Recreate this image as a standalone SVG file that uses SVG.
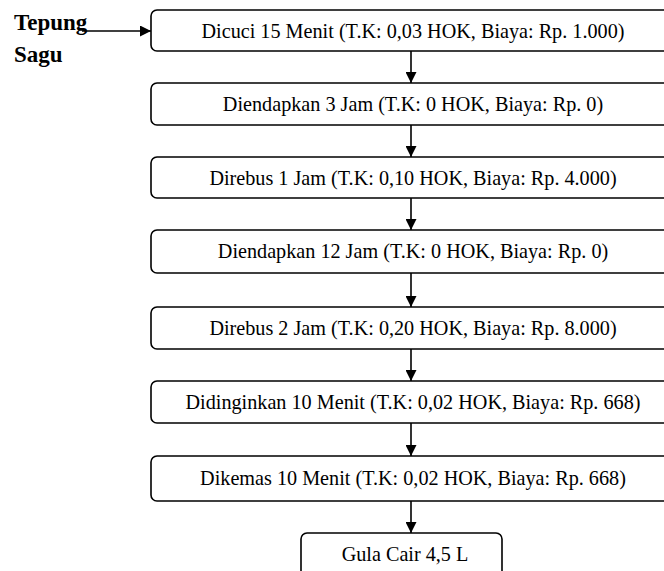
<svg xmlns="http://www.w3.org/2000/svg" width="664" height="571" viewBox="0 0 664 571">
<defs>
<marker id="ah" markerWidth="11" markerHeight="11" refX="11" refY="5.5" orient="auto" markerUnits="userSpaceOnUse">
<path d="M0,0 L11,5.5 L0,11 Z" fill="#000"/>
</marker>
</defs>
<style>
.box{fill:#fff;stroke:#000;stroke-width:1.6}
.t{font-family:"Liberation Serif","Times New Roman",serif;font-size:20.2px;fill:#000;text-anchor:middle}
.b{font-family:"Liberation Serif","Times New Roman",serif;font-size:23px;font-weight:bold;fill:#000}
.c{stroke:#000;stroke-width:1.6;fill:none;marker-end:url(#ah)}
</style>
<rect width="664" height="571" fill="#fff"/>
<g id="input">
<text class="b" x="14" y="30">Tepung</text>
<text class="b" x="14" y="62">Sagu</text>
</g>
<g id="n1"><rect class="box" x="151" y="10" width="524" height="41" rx="6"/><text class="t" x="413" y="38">Dicuci 15 Menit (T.K: 0,03 HOK, Biaya: Rp. 1.000)</text></g>
<g id="n2"><rect class="box" x="151" y="83" width="524" height="42" rx="6"/><text class="t" x="413" y="111">Diendapkan 3 Jam (T.K: 0 HOK, Biaya: Rp. 0)</text></g>
<g id="n3"><rect class="box" x="151" y="157" width="524" height="41" rx="6"/><text class="t" x="413" y="185">Direbus 1 Jam (T.K: 0,10 HOK, Biaya: Rp. 4.000)</text></g>
<g id="n4"><rect class="box" x="151" y="230" width="524" height="43" rx="6"/><text class="t" x="413" y="258">Diendapkan 12 Jam (T.K: 0 HOK, Biaya: Rp. 0)</text></g>
<g id="n5"><rect class="box" x="151" y="307" width="524" height="42" rx="6"/><text class="t" x="413" y="335">Direbus 2 Jam (T.K: 0,20 HOK, Biaya: Rp. 8.000)</text></g>
<g id="n6"><rect class="box" x="151" y="381" width="524" height="42" rx="6"/><text class="t" x="413" y="409">Didinginkan 10 Menit (T.K: 0,02 HOK, Biaya: Rp. 668)</text></g>
<g id="n7"><rect class="box" x="151" y="456" width="524" height="45" rx="6"/><text class="t" x="413" y="485">Dikemas 10 Menit (T.K: 0,02 HOK, Biaya: Rp. 668)</text></g>
<g id="n8"><rect class="box" x="301" y="533" width="201" height="50" rx="6"/><text class="t" x="405" y="561">Gula Cair 4,5 L</text></g>
<g id="connectors">
<line class="c" x1="82" y1="31" x2="151" y2="31"/>
<line class="c" x1="411" y1="51" x2="411" y2="83"/>
<line class="c" x1="411" y1="125" x2="411" y2="157"/>
<line class="c" x1="411" y1="198" x2="411" y2="230"/>
<line class="c" x1="411" y1="273" x2="411" y2="307"/>
<line class="c" x1="411" y1="349" x2="411" y2="381"/>
<line class="c" x1="411" y1="423" x2="411" y2="456"/>
<line class="c" x1="411" y1="501" x2="411" y2="533"/>
</g>
</svg>
